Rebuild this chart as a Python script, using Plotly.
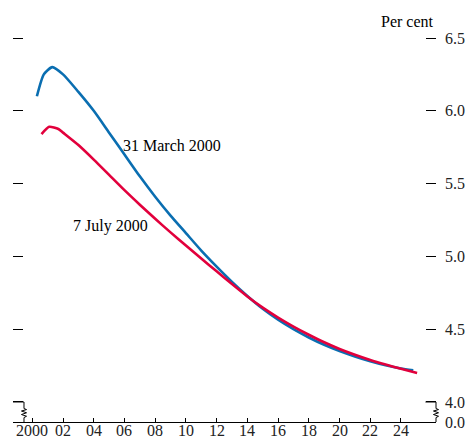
import plotly.graph_objects as go

# 31 March 2000 curve (blue)
march_years = [2000.3, 2000.75, 2001.3, 2002, 2003, 2004, 2005, 2006, 2007, 2008, 2009, 2010,
               2011, 2012, 2013, 2014, 2015, 2016, 2017, 2018, 2019, 2020, 2021, 2022,
               2023, 2024, 2024.8]
march_values = [6.10, 6.25, 6.30, 6.25, 6.13, 6.00, 5.85, 5.70, 5.55, 5.41, 5.28, 5.16,
                5.04, 4.93, 4.825, 4.728, 4.64, 4.565, 4.50, 4.443, 4.393, 4.35, 4.313, 4.28,
                4.252, 4.23, 4.218]

# 7 July 2000 curve (red)
july_years = [2000.6, 2001.1, 2001.7, 2002, 2003, 2004, 2005, 2006, 2007, 2008, 2009, 2010,
              2011, 2012, 2013, 2014, 2015, 2016, 2017, 2018, 2019, 2020, 2021, 2022,
              2023, 2024, 2025.05]
july_values = [5.84, 5.89, 5.875, 5.85, 5.765, 5.665, 5.56, 5.455, 5.355, 5.258, 5.165, 5.075,
               4.985, 4.898, 4.81, 4.725, 4.648, 4.58, 4.518, 4.462, 4.41, 4.364, 4.324, 4.288,
               4.257, 4.228, 4.199]

x_tickvals = list(range(2000, 2025, 2))
x_ticktext = ["2000", "02", "04", "06", "08", "10", "12", "14", "16", "18", "20", "22", "24"]

Y_BOTTOM = 3.8626  # position of the broken-axis zero line
Y_TOP = 6.6236
X_LEFT = 1998.744
X_RIGHT = 2026.28

y_tickvals = [Y_BOTTOM, 4.0, 4.5, 5.0, 5.5, 6.0, 6.5]
y_ticktext = ["0.0", "4.0", "4.5", "5.0", "5.5", "6.0", "6.5"]

BLUE = "#0a6eb1"
RED = "#e2003c"
FONT = "Liberation Serif"
FS = 16

fig = go.Figure()
fig.add_trace(go.Scatter(x=march_years, y=march_values, mode="lines",
                         line=dict(color=BLUE, width=2.6, shape="spline", smoothing=0.6),
                         showlegend=False, hoverinfo="skip"))
fig.add_trace(go.Scatter(x=july_years, y=july_values, mode="lines",
                         line=dict(color=RED, width=2.6, shape="spline", smoothing=0.6),
                         showlegend=False, hoverinfo="skip"))

fig.update_layout(
    width=469, height=439,
    margin=dict(l=13, r=33, t=20, b=17, autoexpand=False),
    paper_bgcolor="white", plot_bgcolor="white",
    font=dict(family=FONT, size=FS, color="black"),
    xaxis=dict(range=[X_LEFT, X_RIGHT], tickvals=x_tickvals, showticklabels=False,
               ticks="inside", ticklen=4, tickwidth=1, tickcolor="black",
               showline=True, linecolor="black", linewidth=1, showgrid=False,
               zeroline=False, automargin=False),
    yaxis=dict(range=[Y_BOTTOM, Y_TOP], tickvals=y_tickvals, ticktext=y_ticktext,
               side="right", ticks="inside", ticklen=10, tickwidth=1, tickcolor="black",
               mirror="ticks", showline=False, showgrid=False, zeroline=False,
               ticklabelstandoff=8, automargin=False,
               tickfont=dict(family=FONT, size=FS, color="#222")),
)

# x tick labels placed just under the axis line
for v, t in zip(x_tickvals, x_ticktext):
    fig.add_annotation(x=v, y=0, xref="x", yref="paper", text=t, showarrow=False,
                       yanchor="top", yshift=2, font=dict(family=FONT, size=FS, color="#222"))

# broken-axis markers
def break_path(x0, x1, xv, d):
    pts = [(x0, 4.0), (x1, 4.0), (xv, 4.0), (xv, 3.955), (xv + d, 3.948), (xv - d, 3.938),
           (xv + d, 3.926), (xv - d, 3.914), (xv + d, 3.902), (xv, 3.893), (xv, Y_BOTTOM)]
    return "M " + " L ".join(f"{a},{b}" for a, b in pts)

fig.add_shape(type="path", xref="paper", yref="y", path=break_path(0.0, 0.026, 0.026, 0.006),
              line=dict(color="black", width=1))
fig.add_shape(type="path", xref="paper", yref="y", path=break_path(0.975, 1.0, 1.0, 0.006),
              line=dict(color="black", width=1))

fig.add_annotation(x=1.0, y=6.61, xref="paper", yref="y", text="Per cent",
                   showarrow=False, xanchor="right", yanchor="middle",
                   font=dict(family=FONT, size=FS, color="black"))
fig.add_annotation(x=2009.09, y=5.765, text="31 March 2000", showarrow=False,
                   font=dict(family=FONT, size=FS, color="black"))
fig.add_annotation(x=2005.06, y=5.209, text="7 July 2000", showarrow=False,
                   font=dict(family=FONT, size=FS, color="black"))

fig.write_html("out.html", config={"displayModeBar": False},
               post_script="document.body.style.margin='0px';document.body.style.overflow='hidden';")
